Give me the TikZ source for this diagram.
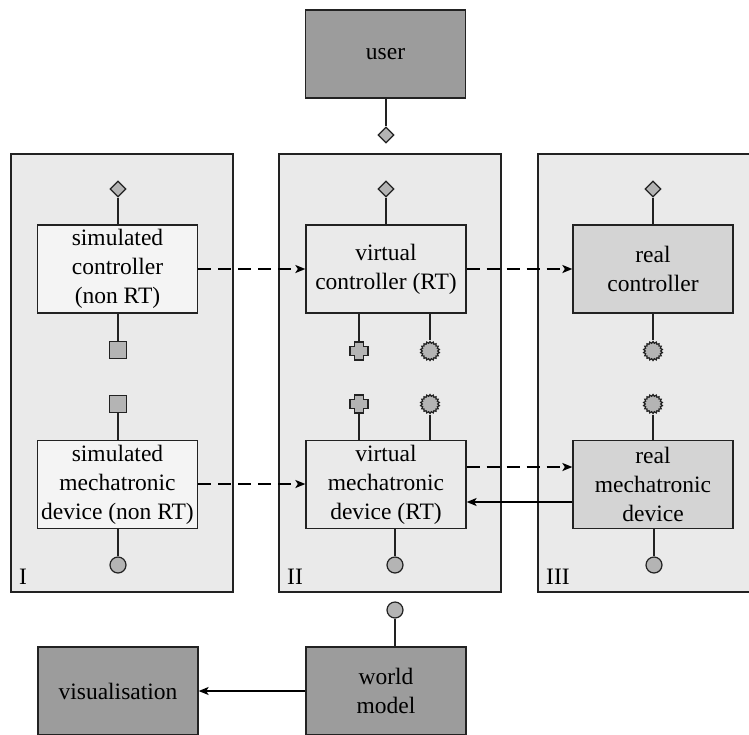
\documentclass[tikz,border=0pt]{standalone}
\usepackage{fontspec}
\setmainfont{LiberationSerif}[Extension=.ttf,UprightFont=*-Regular,BoldFont=*-Bold,ItalicFont=*-Italic,BoldItalicFont=*-BoldItalic]
\usetikzlibrary{shapes.geometric,arrows.meta}

\definecolor{panelfill}{HTML}{EAEAEA}
\definecolor{simfill}{HTML}{F4F4F4}
\definecolor{virtfill}{HTML}{EAEAEA}
\definecolor{realfill}{HTML}{D4D4D4}
\definecolor{extfill}{HTML}{9C9C9C}
\definecolor{portfill}{HTML}{B4B4B4}
\definecolor{edge}{HTML}{222222}

\begin{document}
\begin{tikzpicture}[x=1pt,y=-1pt,
  every node/.style={font=\rmfamily\fontsize{23.5}{29}\selectfont},
  panel/.style={draw=edge,line width=1.3pt,fill=panelfill},
  unitbox/.style={draw=edge,line width=1.3pt,minimum width=160pt,minimum height=88pt,
    inner sep=0pt,align=center,text=black},
  simbox/.style={unitbox,fill=simfill},
  virtbox/.style={unitbox,fill=virtfill},
  realbox/.style={unitbox,fill=realfill},
  extbox/.style={unitbox,fill=extfill},
  wire/.style={draw=edge,line width=1.4pt},
  flow/.style={draw=black,line width=1.7pt,dash pattern=on 13pt off 7pt,
    -{Stealth[length=10pt,width=8pt,inset=2.5pt]}},
  feed/.style={draw=black,line width=1.3pt,-{Stealth[length=10pt,width=8pt,inset=2.5pt]}},
  portbase/.style={draw=edge,line width=1.2pt,fill=portfill,inner sep=0pt},
  dport/.style={portbase,diamond,aspect=1,minimum width=16pt,minimum height=16pt},
  sport/.style={portbase,rectangle,minimum size=17pt},
  cport/.style={portbase,circle,minimum size=16pt},
  gport/.style={portbase,star,star points=18,star point ratio=1.22,minimum size=19pt},
  xport/.style={rectangle,minimum size=18pt,inner sep=0pt},
  plusport/.pic={
    \filldraw[draw=edge,line width=1.2pt,fill=portfill]
      (-4.5,-9) -- (4.5,-9) -- (4.5,-4.5) -- (9,-4.5) -- (9,4.5) -- (4.5,4.5)
      -- (4.5,9) -- (-4.5,9) -- (-4.5,4.5) -- (-9,4.5) -- (-9,-4.5) -- (-4.5,-4.5) -- cycle;
  },
  tag/.style={anchor=base west,inner sep=0pt}
]
\clip (0,0) rectangle (749,734);
\fill[white] (0,0) rectangle (749,734);

% the three execution panels
\draw[panel] (11,154) rectangle (233,592);
\draw[panel] (279,154) rectangle (501,592);
\draw[panel] (538,154) rectangle (770,592);
\node[tag] (lblI)   at (19,584)  {I};
\node[tag] (lblII)  at (287,584) {II};
\node[tag] (lblIII) at (546,584) {III};

% external blocks
\node[extbox] (user)  at (385.5,54) {user};
\node[extbox] (world) at (386,691)  {world\\model};
\node[extbox] (vis)   at (118,691)  {visualisation};

% controllers
\node[simbox]  (simctrl)  at (117.5,269) {simulated\\controller\\(non RT)};
\node[virtbox] (virtctrl) at (386,269)   {virtual\\controller (RT)};
\node[realbox] (realctrl) at (653,269)   {real\\controller};

% mechatronic devices
\node[simbox]  (simdev)  at (117.5,484.5) {simulated\\mechatronic\\device (non RT)};
\node[virtbox] (virtdev) at (386,484.5)   {virtual\\mechatronic\\device (RT)};
\node[realbox] (realdev) at (653,484.5)   {real\\mechatronic\\device};

% user ports
\node[dport] (userport) at (386,135) {};
\node[dport] (uI)   at (118,189) {};
\node[dport] (uII)  at (386,189) {};
\node[dport] (uIII) at (653,189) {};

% controller / device ports
\node[sport] (sqA) at (118,350) {};
\node[sport] (sqB) at (118,404) {};
\node[xport] (pA) at (359,351) {};
\node[xport] (pB) at (359,404) {};
\pic at (pA) {plusport};
\pic at (pB) {plusport};
\node[gport] (gA) at (430,351) {};
\node[gport] (gB) at (430,404) {};
\node[gport] (rA) at (653,351) {};
\node[gport] (rB) at (653,404) {};

% world model ports
\node[cport] (wI)   at (118,565) {};
\node[cport] (wII)  at (395,565) {};
\node[cport] (wIII) at (654,565) {};
\node[cport] (worldport) at (395,610) {};

% port wiring (all vertical)
\draw[wire] (userport |- user.south) -- (userport);
\draw[wire] (uI) -- (uI |- simctrl.north);
\draw[wire] (uII) -- (uII |- virtctrl.north);
\draw[wire] (uIII) -- (uIII |- realctrl.north);
\draw[wire] (sqA |- simctrl.south) -- (sqA);
\draw[wire] (sqB) -- (sqB |- simdev.north);
\draw[wire] (pA |- virtctrl.south) -- (pA.north);
\draw[wire] (pB.south) -- (pB |- virtdev.north);
\draw[wire] (gA |- virtctrl.south) -- (gA);
\draw[wire] (gB) -- (gB |- virtdev.north);
\draw[wire] (rA |- realctrl.south) -- (rA);
\draw[wire] (rB) -- (rB |- realdev.north);
\draw[wire] (wI |- simdev.south) -- (wI);
\draw[wire] (wII |- virtdev.south) -- (wII);
\draw[wire] (wIII |- realdev.south) -- (wIII);
\draw[wire] (worldport) -- (worldport |- world.north);

% data flows
\draw[flow] (simctrl.east) -- (virtctrl.west);
\draw[flow] (virtctrl.east) -- (realctrl.west);
\draw[flow] ([yshift=0.5pt]simdev.east) -- ([yshift=0.5pt]virtdev.west);
\draw[flow] ([yshift=17.5pt]virtdev.east) -- ([yshift=17.5pt]realdev.west);
\draw[feed] ([yshift=-17.5pt]realdev.west) -- ([yshift=-17.5pt]virtdev.east);
\draw[feed] (world.west) -- (vis.east);
\end{tikzpicture}
\end{document}
